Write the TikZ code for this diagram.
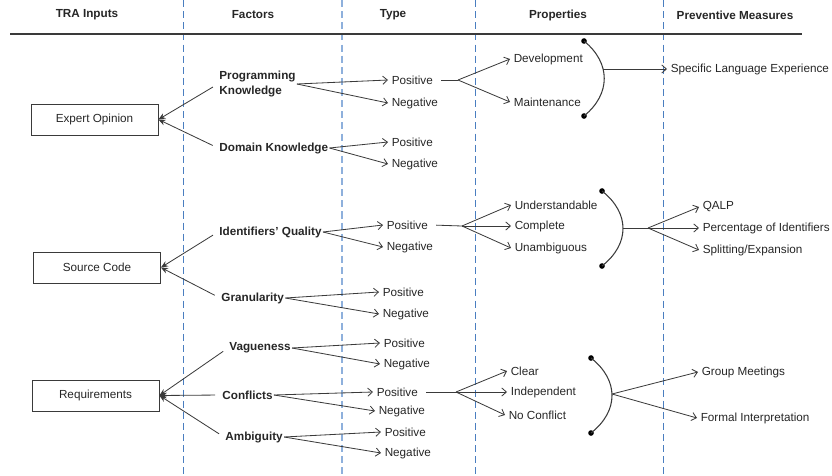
\documentclass[tikz,border=0pt]{standalone}
\usepackage{fontspec}
\setmainfont{Liberation Sans}
\usepackage{xcolor}
\usetikzlibrary{arrows.meta}
\definecolor{trink}{HTML}{262626}
\definecolor{trline}{HTML}{3A3A3A}
\definecolor{trdash}{HTML}{4A7EC0}
\definecolor{trdashlt}{HTML}{8EB0DC}

\begin{document}
\begin{tikzpicture}[x=0.03cm, y=-0.03cm,
  hdr/.style={font=\fontsize{10}{12}\selectfont\bfseries, text=trink},
  inbox/.style={draw=trline, line width=0.75pt, minimum width=3.81cm, minimum height=0.93cm, font=\fontsize{10}{12}\selectfont, text=trink},
  factor/.style={font=\fontsize{10}{12}\selectfont\bfseries, text=trink, align=left, anchor=west, inner sep=1pt},
  item/.style={font=\fontsize{10}{12}\selectfont, text=trink, anchor=west, inner xsep=3pt, inner ysep=1pt},
  dot/.style={circle, fill=black, inner sep=0pt, minimum size=4.8pt},
  sep/.style={trdash, line width=0.75pt, dash pattern=on 6pt off 3.5pt},
  rule/.style={trline, line width=1pt},
  inarr/.style={-{Stealth[length=6pt, width=5pt]}, trline, line width=0.7pt, shorten <=5pt},
  fan/.style={-{Straight Barb[length=4pt, width=7pt]}, trline, line width=0.7pt},
  lead/.style={trline, line width=0.7pt, shorten <=4pt},
  arcl/.style={trline, line width=0.9pt}
]
  \useasboundingbox (0,0) rectangle (832,476);

  % column separators and header
  \foreach \x in {183,475,663}
    \draw[sep] (\x,0) -- (\x,476);
  \draw[sep, trdashlt, line width=1pt] (342,0) -- (342,476);
  \draw[rule] (10,34) -- (802,34);

  \node[hdr] (htra) at (87,15) {TRA Inputs};
  \node[hdr] (hfac) at (253,15) {Factors};
  \node[hdr] (htyp) at (393,15) {Type};
  \node[hdr] (hpro) at (558,15) {Properties};
  \node[hdr] (hpre) at (735,15) {Preventive Measures};

  % TRA inputs
  \node[inbox] (eo) at (94.5,119.5) {Expert Opinion};
  \node[inbox] (sc) at (97,267.5) {Source Code};
  \node[inbox] (rq) at (95.5,395.5) {Requirements};

  % factors
  \node[factor] (pk) at (218,84) {Programming\\Knowledge};
  \node[factor] (dk) at (218,148) {Domain Knowledge};
  \node[factor] (iq) at (218,232) {Identifiers' Quality};
  \node[factor] (gr) at (220,298) {Granularity};
  \node[factor] (va) at (228,348) {Vagueness};
  \node[factor] (co) at (221,395) {Conflicts};
  \node[factor] (am) at (224,437) {Ambiguity};

  \draw[inarr] (pk.west) -- (eo.east);
  \draw[inarr] (dk.west) -- (eo.east);
  \draw[inarr] (iq.west) -- (sc.east);
  \draw[inarr] (gr.west) -- (sc.east);
  \draw[inarr] (va.west) -- (rq.east);
  \draw[inarr] (co.west) -- (rq.east);
  \draw[inarr] (am.west) -- (rq.east);

  % type
  \node[item] (pkpos) at (388,80) {Positive};
  \node[item] (pkneg) at (388,103) {Negative};
  \node[item] (dkpos) at (388,142) {Positive};
  \node[item] (dkneg) at (388,164) {Negative};
  \node[item] (iqpos) at (383,225) {Positive};
  \node[item] (iqneg) at (383,247) {Negative};
  \node[item] (grpos) at (379,292) {Positive};
  \node[item] (grneg) at (379,314) {Negative};
  \node[item] (vapos) at (380,343) {Positive};
  \node[item] (vaneg) at (380,364) {Negative};
  \node[item] (copos) at (373,392) {Positive};
  \node[item] (coneg) at (375,411) {Negative};
  \node[item] (ampos) at (381,432) {Positive};
  \node[item] (amneg) at (381,453) {Negative};

  \foreach \f in {pk,dk,iq,gr,va,co,am} {
    \draw[fan] (\f.east) -- (\f pos.west);
    \draw[fan] (\f.east) -- (\f neg.west);
  }

  % properties
  \coordinate (b1) at (458,80);
  \coordinate (b2) at (462,226);
  \coordinate (b4) at (456,392);
  \node[item] (dev) at (510,59) {Development};
  \node[item] (mai) at (510,102) {Maintenance};
  \node[item] (und) at (511,205) {Understandable};
  \node[item] (com) at (511,226) {Complete};
  \node[item] (una) at (511,248) {Unambiguous};
  \node[item] (cle) at (507,371) {Clear};
  \node[item] (ind) at (507,392) {Independent};
  \node[item] (noc) at (505,415) {No Conflict};

  \draw[lead] (pkpos.east) -- (b1);
  \draw[lead] (iqpos.east) -- (b2);
  \draw[lead] (copos.east) -- (b4);
  \draw[fan] (b1) -- (dev.west);
  \draw[fan] (b1) -- (mai.west);
  \draw[fan] (b2) -- (und.west);
  \draw[fan] (b2) -- (com.west);
  \draw[fan] (b2) -- (una.west);
  \draw[fan] (b4) -- (cle.west);
  \draw[fan] (b4) -- (ind.west);
  \draw[fan] (b4) -- (noc.west);

  \node[dot] (d1a) at (584,41) {};
  \node[dot] (d1b) at (584,116) {};
  \node[dot] (d2a) at (602,191) {};
  \node[dot] (d2b) at (602,266) {};
  \node[dot] (d3a) at (591,358) {};
  \node[dot] (d3b) at (591,433) {};
  \draw[arcl] (d1a.center) .. controls +(27,22) and +(27,-22) .. (d1b.center);
  \draw[arcl] (d2a.center) .. controls +(28,22) and +(28,-22) .. (d2b.center);
  \draw[arcl] (d3a.center) .. controls +(28,22) and +(28,-22) .. (d3b.center);

  % preventive measures
  \coordinate (j1) at (603,69);
  \coordinate (j2) at (623,228);
  \coordinate (b3) at (648,228);
  \coordinate (j3) at (612,394);
  \node[item] (sle) at (667,69) {Specific Language Experience};
  \node[item] (qalp) at (699,207) {QALP};
  \node[item] (poi) at (699,228) {Percentage of Identifiers};
  \node[item] (spl) at (699,250) {Splitting/Expansion};
  \node[item] (grm) at (698,372) {Group Meetings};
  \node[item] (fip) at (697,418) {Formal Interpretation};

  \draw[fan] (j1) -- (sle.west);
  \draw[trline, line width=0.7pt] (j2) -- (b3);
  \draw[fan] (b3) -- (qalp.west);
  \draw[fan] (b3) -- (poi.west);
  \draw[fan] (b3) -- (spl.west);
  \draw[fan] (j3) -- (grm.west);
  \draw[fan] (j3) -- (fip.west);
\end{tikzpicture}
\end{document}
